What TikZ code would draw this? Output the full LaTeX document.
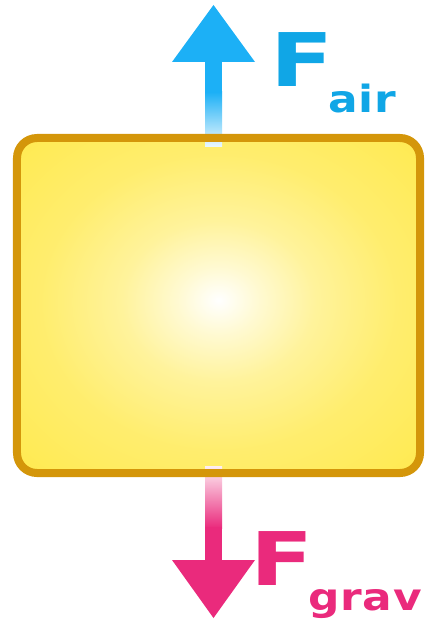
\documentclass[tikz,border=0pt]{standalone}
\usepackage{fontspec}
\usepackage{tikz}
\usetikzlibrary{positioning}
\newfontfamily\forcefont{DejaVu Sans}[LetterSpace=2]
\definecolor{BodyYellow}{HTML}{FFE94A}
\definecolor{BodyEdge}{HTML}{D4960A}
\definecolor{AirBlue}{HTML}{1CB0F6}
\definecolor{AirText}{HTML}{10A6E6}
\definecolor{GravPink}{HTML}{EA2A7C}
\pgfdeclareradialshading{bodyglow}{\pgfpoint{0bp}{0.8bp}}{%
  color(0bp)=(white); color(5bp)=(BodyYellow!25!white);
  color(12bp)=(BodyYellow!55!white); color(22bp)=(BodyYellow!80!white);
  color(34bp)=(BodyYellow!95!white); color(45bp)=(BodyYellow);
  color(50bp)=(BodyYellow)}

\begin{document}
\begin{tikzpicture}[x=1bp,y=-1bp]
  \tikzstyle{body}=[shade,shading=bodyglow,rounded corners=20bp,
    minimum width=403bp,minimum height=335bp,inner sep=0pt,outer sep=0pt]
  \tikzstyle{forcesym}=[anchor=base west,inner sep=0pt,
    font=\forcefont\bfseries\fontsize{74bp}{80bp}\selectfont]
  \tikzstyle{forcesub}=[anchor=base west,inner sep=0pt,
    font=\forcefont\bfseries\fontsize{37.5bp}{40bp}\selectfont]
  \useasboundingbox (0,0) rectangle (426,623);
  \node[body] (body) at (218.5,305.5) {};
  % air resistance, upwards
  \coordinate (airstart) at (213.5,147);
  \coordinate (airfade) at (213.5,92);
  \coordinate (airneck) at (213.5,62);
  \coordinate (airtip) at (213.5,5);
  \shade[top color=AirBlue,bottom color=AirBlue!8!white]
    ([xshift=-8.5bp]airfade) rectangle ([xshift=8.5bp]airstart);
  \fill[AirBlue] ([xshift=-8.5bp]airneck) rectangle ([xshift=8.5bp,yshift=-1bp]airfade);
  \fill[AirBlue] (airtip) -- ([xshift=-41.5bp]airneck) -- ([xshift=41.5bp]airneck) -- cycle;
  % gravity, downwards
  \coordinate (gravstart) at (213.5,466);
  \coordinate (gravfade) at (213.5,528);
  \coordinate (gravneck) at (213.5,560);
  \coordinate (gravtip) at (213.5,618);
  \shade[top color=GravPink!8!white,bottom color=GravPink]
    ([xshift=-8.5bp]gravstart) rectangle ([xshift=8.5bp]gravfade);
  \fill[GravPink] ([xshift=-8.5bp,yshift=1bp]gravfade) rectangle ([xshift=8.5bp]gravneck);
  \fill[GravPink] (gravtip) -- ([xshift=-41.5bp]gravneck) -- ([xshift=41.5bp]gravneck) -- cycle;
  \draw[BodyEdge,line width=8bp,rounded corners=20bp]
    (body.north west) rectangle (body.south east);
  % labels
  \node[forcesym,text=AirText] (airF) at (270,87) {\scalebox{1.25}[1]{F}};
  \node[forcesub,text=AirText] (airsub) at (328,113) {\scalebox{1.17}[1]{air}};
  \node[forcesym,text=GravPink] (gravF) at (250,585) {\scalebox{1.25}[1]{F}};
  \node[forcesub,text=GravPink] (gravsub) at (308,610) {\scalebox{1.17}[1]{grav}};
\end{tikzpicture}
\end{document}
